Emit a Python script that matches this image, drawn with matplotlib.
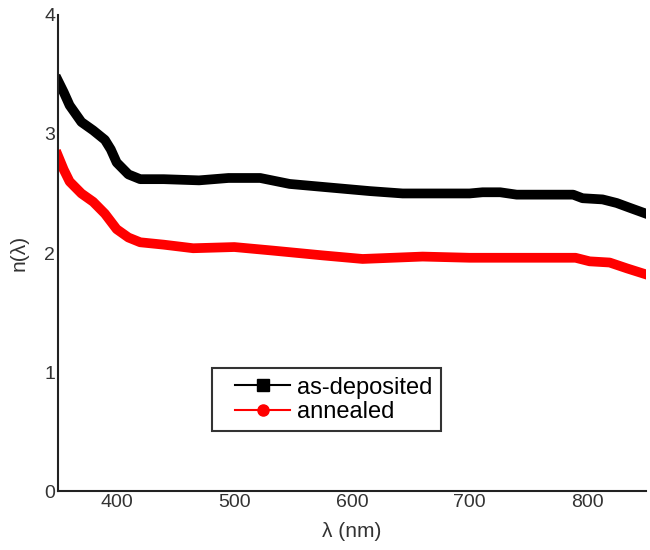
import matplotlib
matplotlib.use('Agg')
import matplotlib.pyplot as plt
from matplotlib.lines import Line2D
from matplotlib.legend_handler import HandlerLine2D

# ==================== DATA ====================
wl_as_dep = [350, 355, 360, 365, 370, 380, 390, 395, 400, 410, 420, 440, 470,
             495, 510, 522, 547, 581, 615, 643, 683, 700, 711, 726, 740, 788,
             796, 813, 825, 836, 850]
n_as_dep = [3.45, 3.35, 3.24, 3.17, 3.10, 3.03, 2.95, 2.87, 2.76, 2.66, 2.62,
            2.62, 2.61, 2.63, 2.63, 2.63, 2.58, 2.55, 2.52, 2.50, 2.50, 2.50,
            2.51, 2.51, 2.49, 2.49, 2.46, 2.45, 2.42, 2.38, 2.33]

wl_annealed = [350, 355, 360, 370, 380, 390, 400, 410, 420, 440, 465, 500, 533,
               575, 609, 660, 700, 790, 802, 819, 834, 850]
n_annealed = [2.82, 2.70, 2.60, 2.50, 2.43, 2.33, 2.20, 2.13, 2.09, 2.07, 2.04,
              2.05, 2.02, 1.98, 1.95, 1.97, 1.96, 1.96, 1.93, 1.92, 1.87, 1.82]

x_ticks = [400, 500, 600, 700, 800]
y_ticks = [0, 1, 2, 3, 4]
series_labels = ['as-deposited', 'annealed']

# ==================== PLOT ====================
plt.rcParams['font.family'] = ['Liberation Sans', 'DejaVu Sans']

fig = plt.figure(figsize=(6.5, 5.5), dpi=100)
ax = fig.add_axes([0.089, 0.107, 0.905, 0.866])

ax.plot(wl_as_dep, n_as_dep, color='black', lw=7, solid_joinstyle='round')
ax.plot(wl_annealed, n_annealed, color='red', lw=7, solid_joinstyle='round')

ax.set_xlim(350, 850)
ax.set_ylim(0, 4)
ax.set_xticks(x_ticks)
ax.set_yticks(y_ticks)
ax.tick_params(length=0, labelsize=14, labelcolor='#333333', pad=2)

for side in ['top', 'right']:
    ax.spines[side].set_visible(False)
for side in ['left', 'bottom']:
    ax.spines[side].set_linewidth(1.5)
    ax.spines[side].set_color('#222222')

ax.set_xlabel('λ (nm)', fontsize=15, color='#333333', labelpad=8)
ax.set_ylabel('n(λ)', fontsize=15, color='#333333', labelpad=11)

# legend with marker handles like the original
handles = [
    Line2D([], [], color='black', lw=1.5, marker='s', markersize=8),
    Line2D([], [], color='red', lw=1.5, marker='o', markersize=8),
]
pad_handler = HandlerLine2D(xpad=0.64)
leg = ax.legend(handles, series_labels, loc='upper left',
                bbox_to_anchor=(0.262, 0.258), borderaxespad=0,
                fontsize=17, frameon=True, fancybox=False,
                handlelength=2.97, handletextpad=0.3, labelspacing=0.1,
                borderpad=0.35,
                handler_map={Line2D: pad_handler})
leg.get_frame().set_edgecolor('black')
leg.get_frame().set_linewidth(1.5)

plt.savefig('out.png', dpi=100)
